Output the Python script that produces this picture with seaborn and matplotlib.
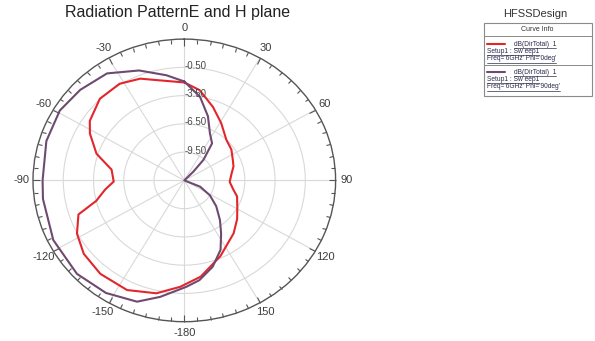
import numpy as np
import pandas as pd
import matplotlib
matplotlib.use("Agg")
import matplotlib.pyplot as plt
from matplotlib.ticker import FixedLocator
from matplotlib.lines import Line2D
from matplotlib.patches import Rectangle
from matplotlib.transforms import IdentityTransform
import seaborn as sns

# Directivity cuts at 6 GHz (dB), angle in degrees (clockwise from top)
phi0_deg = [0, 9, 20, 31, 44, 55, 65, 73, 81, 92, 102, 108, 118, 128, 139, 156,
            171, 182, 193, 206, 220, 232, 242, 251, 256, 263, 269, 279, 288, 298,
            304, 316, 328, 338, 347, 360]
phi0_db = [-2.1, -2.8, -4.2, -5.4, -6.5, -6.8, -7.2, -7.4, -7.75, -8.0, -7.5, -7.0,
           -6.55, -5.85, -5.05, -3.7, -2.15, -1.2, -0.2, 0.45, 0.45, 0.15, -0.45,
           -1.4, -3.5, -4.6, -5.5, -5.2, -3.35, -1.9, -1.2, -0.45, -0.4, -0.85,
           -1.6, -2.1]

phi90_deg = [0, 10, 19, 27, 35, 41, 44, 47, 60, 80, 100, 108, 113, 122, 131, 140,
             147, 154, 163, 172, 179, 191, 200, 213, 227, 244, 262, 270, 287, 301,
             313, 326, 339, 351, 360]
phi90_db = [-2.0, -3.5, -5.3, -6.9, -7.7, -9.6, -11.2, -13.0, -20.0, -25.0, -20.0,
            -13.0, -10.8, -9.5, -8.3, -7.0, -5.8, -4.3, -2.9, -1.8, -1.2, 0.1, 1.2,
            1.75, 2.05, 1.95, 1.65, 1.55, 1.8, 1.9, 1.6, 1.2, 0.0, -1.2, -2.0]

series_names = ["Phi='0deg'", "Phi='90deg'"]
series_colors = ["#e2262b", "#6f4a70"]

r_min, r_max = -12.5, 2.5
ring_levels = [-9.5, -6.5, -3.5, -0.5]
ring_labels = ["-9.50", "-6.50", "-3.50", "-0.50"]
theta_ticks = list(range(0, 360, 30))
theta_labels = ["0", "30", "60", "90", "120", "150", "-180",
                "-150", "-120", "-90", "-60", "-30"]

title_text = "Radiation PatternE and H plane"
legend_title = "HFSSDesign"
legend_header = "Curve Info"
entry_lines = [
    ["dB(DirTotal)  1", "Setup1 : Sw eep1", "Freq='6GHz' Phi='0deg'"],
    ["dB(DirTotal)  1", "Setup1 : Sw eep1", "Freq='6GHz' Phi='90deg'"],
]

# long-form table for seaborn
frames = []
for name, deg, db in [(series_names[0], phi0_deg, phi0_db),
                      (series_names[1], phi90_deg, phi90_db)]:
    frames.append(pd.DataFrame({
        "theta": np.deg2rad(deg),
        "level": np.clip(db, r_min, r_max),
        "curve": name,
    }))
df = pd.concat(frames, ignore_index=True)

sns.set_theme(style="white")
plt.rcParams["font.family"] = ["Liberation Sans", "DejaVu Sans"]

W, H = 595, 341
fig = plt.figure(figsize=(W / 100, H / 100), dpi=100)
fig.patch.set_facecolor("white")


def fx(x):
    return x / W


def fy(y):
    return 1 - y / H


# polar axes, slightly wider than tall
cx, cy, rx, ry = 184.3, 180.4, 151.3, 141.3
ax = fig.add_axes([fx(cx - rx), fy(cy + ry), 2 * rx / W, 2 * ry / H],
                  projection="polar")
ax.set_aspect("auto")
ax.set_facecolor("white")
ax.set_theta_zero_location("N")
ax.set_theta_direction(-1)
ax.set_ylim(r_min, r_max)

sns.lineplot(data=df, x="theta", y="level", hue="curve", sort=False,
             estimator=None, palette=dict(zip(series_names, series_colors)),
             linewidth=1.5, legend=False, ax=ax)
ax.set_xlabel("")
ax.set_ylabel("")

ax.set_thetagrids(theta_ticks, theta_labels)
ax.xaxis.set_minor_locator(FixedLocator(np.deg2rad(np.arange(0, 360, 5))))
# tick marks on the outer ring only
ax.tick_params(axis="x", which="both", bottom=False, top=True)
ax.tick_params(axis="x", which="major", direction="in", length=5, width=0.8,
               color="#555555", pad=1, labelsize=8, labelcolor="#3c3c3c")
ax.tick_params(axis="x", which="minor", direction="in", length=3, width=0.8,
               color="#555555")
ax.set_rgrids(ring_levels, [""] * len(ring_levels))
ax.grid(True, color="#d9d9d9", linewidth=0.8)
ax.spines["polar"].set_color("#555555")
ax.spines["polar"].set_linewidth(1.0)

for lvl, lab in zip(ring_levels, ring_labels):
    ax.annotate(lab, xy=(0, lvl), xytext=(0, 1), textcoords="offset points",
                ha="left", va="center", fontsize=7, color="#4a4a4a")

fig.text(fx(178), fy(13), title_text, ha="center", va="center",
         fontsize=11.5, color="#222222")

# curve info box
fig.text(fx(535), fy(14), legend_title, ha="center", va="center",
         fontsize=8, color="#333333")
bx0, bx1, by0, by1 = 484, 592, 23, 96
fig.add_artist(Rectangle((fx(bx0), fy(by1)), fx(bx1) - fx(bx0), fy(by0) - fy(by1),
                         transform=fig.transFigure, facecolor="white",
                         edgecolor="#8a8a8a", linewidth=0.8))
for ysep in (36, 65):
    fig.add_artist(Line2D([fx(bx0), fx(bx1)], [fy(ysep), fy(ysep)],
                          transform=fig.transFigure, color="#8a8a8a", linewidth=0.7))
fig.text(fx(537), fy(29.5), legend_header, ha="center", va="center",
         fontsize=5, color="#333333")

entry_texts = []
for i, (lines, col) in enumerate(zip(entry_lines, series_colors)):
    y0 = 44 + i * 28
    fig.add_artist(Line2D([fx(487), fx(505)], [fy(y0), fy(y0)],
                          transform=fig.transFigure, color=col, linewidth=1.5))
    entry_texts.append(fig.text(fx(514), fy(y0), lines[0], ha="left", va="center",
                                fontsize=4.8, color="#2b2b4d"))
    for k, line in enumerate(lines[1:]):
        entry_texts.append(fig.text(fx(487), fy(y0 + 7.5 * (k + 1)), line,
                                    ha="left", va="center", fontsize=4.8,
                                    color="#2b2b4d"))

fig.canvas.draw()
renderer = fig.canvas.get_renderer()
for t in entry_texts:
    bb = t.get_window_extent(renderer)
    fig.add_artist(Line2D([bb.x0, bb.x1], [bb.y0 - 0.3, bb.y0 - 0.3],
                          transform=IdentityTransform(), color="#2b2b4d",
                          linewidth=0.5))

fig.savefig("out.png", dpi=100, facecolor="white")
